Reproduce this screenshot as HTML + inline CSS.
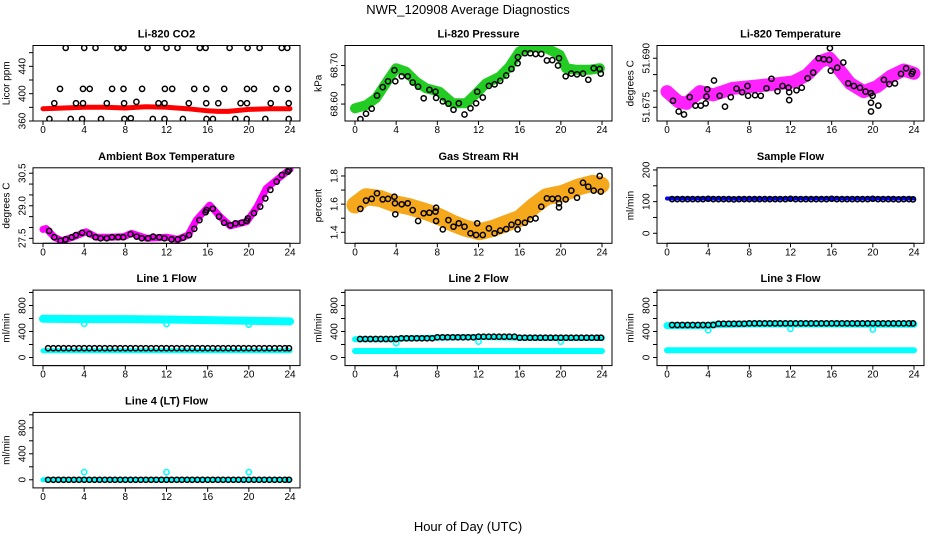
<!DOCTYPE html>
<html><head><meta charset="utf-8">
<style>
html,body{margin:0;padding:0;background:#fff;}
svg{display:block;font-family:"Liberation Sans",Arial,sans-serif;}
</style></head>
<body>
<svg id="chart" width="936" height="540" viewBox="0 0 936 540" xmlns="http://www.w3.org/2000/svg">
<text x="468" y="14" text-anchor="middle" font-size="13">NWR_120908  Average Diagnostics</text>
<text x="468" y="531" text-anchor="middle" font-size="13">Hour of Day (UTC)</text>
</svg>
<script>
// ---------- data ----------
const co2BandH = [0,2,4,6,8,10,12,14,16,17,18,20,22,24];
const co2BandV = [378,379,380,380,379,381,380,378,375,374,374,377,378,378];
const co2PtsH = [2.21,4.0,5.1,7.23,7.82,10.15,12.0,13.07,15.24,15.8,18.13,19.88,21.05,23.19,23.74,
 1.65,3.89,4.54,6.71,7.82,9.63,11.84,12.55,14.69,15.86,17.61,19.82,20.5,22.67,23.81,
 1.1,3.21,3.89,6.2,7.88,9.08,11.22,11.81,14.17,15.86,17.03,19.2,19.82,22.12,23.87,
 0.62,2.69,3.8,5.64,7.91,8.53,10.67,11.81,13.59,15.89,16.51,18.68,19.79,21.6,23.87];
const co2PtsV = [467,467,467,467,467,467,467,467,467,467,467,467,467,467,467,
 407,407,407,407,407,407,407,407,407,407,407,407,407,407,407,
 386,386,386,386,386,388,386,386,386,386,386,386,386,386,386,
 363,363,363,363,363,364,363,363,363,363,363,363,363,363,363];

const presBandH = [0,1.07,2.04,3.0,3.99,4.96,5.94,6.91,8.2,9.5,10.8,11.8,12.75,14.05,15.0,16.0,17.3,18.6,19.9,20.5,21.5,22.8,23.8];
const presBandV = [68.589,68.597,68.615,68.654,68.693,68.684,68.658,68.641,68.632,68.602,68.602,68.628,68.654,68.671,68.697,68.737,68.750,68.745,68.728,68.693,68.689,68.689,68.693];
const presPtsH = [0.52,1.07,1.62,2.14,2.69,3.21,3.83,3.92,4.54,5.12,5.61,6.13,6.68,7.23,7.82,7.88,8.53,9.08,9.57,10.09,10.64,11.22,11.77,11.87,12.42,13.01,13.56,14.11,14.69,15.21,15.80,15.83,16.51,17.03,17.55,18.1,18.65,19.17,19.72,19.82,20.47,21.02,21.57,22.15,22.67,23.19,23.78,23.88];
const presPtsV = [68.561,68.575,68.588,68.622,68.644,68.659,68.688,68.659,68.672,68.672,68.656,68.645,68.615,68.637,68.632,68.616,68.607,68.601,68.585,68.602,68.573,68.589,68.602,68.632,68.617,68.647,68.651,68.660,68.674,68.691,68.706,68.722,68.732,68.732,68.730,68.730,68.713,68.714,68.700,68.719,68.672,68.679,68.677,68.679,68.663,68.693,68.691,68.679];

const tempBandH = [0,1.1,1.9,3.2,4.5,6.4,8.0,9.7,11,12.3,13.6,14.9,15.8,16.5,17.8,19.1,20.4,21.7,23,24];
const tempBandV = [51.6798,51.6767,51.6762,51.6798,51.6788,51.6808,51.6813,51.6818,51.6823,51.6828,51.6849,51.6890,51.6900,51.6874,51.6823,51.6798,51.6813,51.6844,51.6864,51.6854];
const tempPtsH = [0.58,1.14,1.65,2.21,2.76,3.28,3.76,3.83,3.92,4.57,5.12,5.64,6.2,6.75,7.3,7.82,7.88,8.56,9.11,9.67,10.15,10.74,11.22,11.81,11.87,11.87,12.58,13.1,13.66,14.21,14.73,15.24,15.76,15.83,15.92,16.54,17.13,17.61,18.16,18.75,19.3,19.82,19.82,19.82,19.98,20.53,21.08,21.6,22.15,22.74,23.23,23.78,23.87];
const tempPtsV = [51.6770,51.6737,51.6728,51.6781,51.6755,51.6755,51.6762,51.6783,51.6805,51.6832,51.6785,51.6752,51.6781,51.6807,51.6796,51.6815,51.6785,51.6787,51.6785,51.6808,51.6837,51.6799,51.6815,51.6810,51.6796,51.6772,51.6802,51.6810,51.6839,51.6856,51.6900,51.6897,51.6895,51.6931,51.6862,51.6871,51.6887,51.6823,51.6815,51.6810,51.6798,51.6793,51.6764,51.6737,51.6785,51.6755,51.6834,51.6821,51.6823,51.6852,51.6869,51.6852,51.6859];

const ambBandH = [0,0.3,1.1,1.8,2.9,4.2,5.2,6.5,7.9,8.6,10.1,12,13.1,14.1,14.9,16.2,17.2,18.2,19.8,20.8,21.7,22.7,24];
const ambBandV = [27.91,27.95,27.55,27.39,27.55,27.80,27.55,27.55,27.58,27.73,27.5,27.55,27.45,27.65,28.34,29.03,28.5,28.07,28.27,28.96,29.80,30.19,30.68];
const ambPtsH = [0.6,1.1,1.7,2.2,2.8,3.2,3.8,4.5,5.1,5.6,6.2,6.7,7.3,7.8,8.5,9.1,9.6,10.2,10.7,11.3,11.8,12.5,13.1,13.6,14.2,14.7,15.2,15.8,15.9,16.5,17.1,17.6,18.2,18.7,19.3,19.8,19.9,20.5,21.1,21.6,22.1,22.7,23.2,23.8,23.9];
const ambPtsV = [27.84,27.55,27.39,27.45,27.55,27.65,27.76,27.7,27.55,27.5,27.5,27.55,27.55,27.55,27.69,27.58,27.5,27.5,27.58,27.55,27.5,27.45,27.45,27.53,27.65,27.94,28.34,28.70,28.80,28.86,28.50,28.22,28.10,28.19,28.22,28.31,28.42,28.66,28.96,29.34,29.73,30.11,30.42,30.57,30.65];

const rhBandH = [0,1.07,2.4,3.7,5.3,6.9,8.2,9.5,10.8,12.1,13.4,14.7,16,17.3,18.6,20.2,21.8,23.1,23.9];
const rhBandV = [1.594,1.653,1.641,1.606,1.582,1.546,1.511,1.464,1.428,1.404,1.428,1.464,1.499,1.582,1.653,1.677,1.724,1.748,1.736];
const rhPtsH = [0.52,1.07,1.62,2.14,2.69,3.21,3.83,3.89,3.92,4.54,5.12,5.61,6.13,6.68,7.23,7.82,7.88,7.88,8.53,9.08,9.57,10.09,10.64,11.22,11.77,11.87,12.42,13.01,13.56,14.11,14.69,15.21,15.80,15.83,16.51,17.03,17.55,18.1,18.65,19.17,19.72,19.82,19.82,20.47,21.02,21.57,22.15,22.67,23.19,23.78,23.88];
const rhPtsV = [1.566,1.625,1.637,1.677,1.634,1.637,1.653,1.606,1.528,1.599,1.606,1.558,1.480,1.535,1.539,1.547,1.575,1.480,1.421,1.487,1.440,1.464,1.440,1.393,1.381,1.464,1.381,1.428,1.393,1.412,1.423,1.454,1.421,1.471,1.468,1.492,1.499,1.582,1.641,1.637,1.641,1.606,1.577,1.634,1.696,1.646,1.752,1.724,1.696,1.800,1.689];

const flowHours = [0.5,1,1.5,2,2.5,3,3.5,4,4.5,5,5.5,6,6.5,7,7.5,8,8.5,9,9.5,10,10.5,11,11.5,12,12.5,13,13.5,14,14.5,15,15.5,16,16.5,17,17.5,18,18.5,19,19.5,20,20.5,21,21.5,22,22.5,23,23.5,23.9];
const sampleBandH = [0,4,8,12,16,20,24];
const sampleBandV = [110,110,109,110,110,110,110];
const samplePtsV = [108,108,108,108,108,108,108,109,108,108,108,108,107,108,108,108,108,108,108,108,108,108,108,109,108,108,108,108,108,108,108,109,108,108,108,108,108,108,108,109,108,108,108,108,107,108,108,107];

const line1UpperH = [0,4,8,12,16,20,24];
const line1UpperV = [595,590,590,585,575,565,555];
const line1LowerH = [0,24];
const line1LowerV = [105,105];
const line1DipH = [4,12,20];
const line1DipV = [520,515,505];
const line1PtsV = [143,143,143,143,143,143,143,143,143,143,143,143,143,143,143,143,143,143,143,143,143,143,143,143,143,143,143,143,143,143,143,143,143,143,143,143,143,143,143,143,143,143,143,143,143,143,143,143];

const line2UpperH = [0,4,4.5,8,12,16,20,24];
const line2UpperV = [280,280,290,305,315,305,300,300];
const line2LowerH = [0,24];
const line2LowerV = [100,100];
const line2DipH = [4,12,20];
const line2DipV = [220,245,245];
const line2PtsV = [285,285,285,285,285,285,285,285,295,295,295,295,295,295,295,310,310,310,310,310,310,310,310,320,320,320,320,320,320,320,320,305,305,305,305,305,305,305,305,305,305,305,305,305,305,305,305,305];

const line3UpperH = [0,4,4.5,8,12,16,20,24];
const line3UpperV = [490,490,505,515,515,515,510,510];
const line3LowerH = [0,24];
const line3LowerV = [112,112];
const line3DipH = [4,12,20];
const line3DipV = [420,440,430];
const line3PtsV = [500,500,500,500,500,500,500,500,500,520,520,520,520,520,520,525,525,525,525,525,525,525,525,525,525,525,525,525,525,525,525,525,525,525,525,525,525,525,525,525,525,525,525,525,525,525,525,525];

const line4BandH = [0,24];
const line4BandV = [0,0];
const line4DipH = [4,12,20];
const line4DipV = [118,118,118];
const line4PtsV = [0,0,0,0,0,0,0,0,0,0,0,0,0,0,0,0,0,0,0,0,0,0,0,0,0,0,0,0,0,0,0,0,0,0,0,0,0,0,0,0,0,0,0,0,0,0,0,0];

const xTicks = [0,4,8,12,16,20,24];

// ---------- rendering ----------
const NS = "http://www.w3.org/2000/svg";
const svg = document.getElementById('chart');
const colLeft = [33,345,657];
const W = 267, H = 75.5;
function mk(tag, attrs, parent){ const e = document.createElementNS(NS, tag); for (const k in attrs) e.setAttribute(k, attrs[k]); (parent||svg).appendChild(e); return e; }

function panel(cfg){
  const L = colLeft[cfg.col], T = 45.5 + 122.3*cfg.row;
  const g = mk('g', {});
  
  
  const xs = h => L + 10 + h*(247/24);
  const ys = v => T + H - (v - cfg.ymin)/(cfg.ymax - cfg.ymin)*H;
  const cid = 'clip-' + cfg.name;
  const cp = mk('clipPath', {id: cid}, g);
  mk('rect', {x: L, y: T, width: W, height: H}, cp);
  const plot = mk('g', {'clip-path': 'url(#' + cid + ')'}, g);
  cfg.layers.forEach(ly => {
    if (ly.type === 'band') {
      const pts = ly.h.map((h,i) => xs(h).toFixed(1) + ',' + ys(ly.v[i]).toFixed(1)).join(' ');
      const pl = mk('polyline', {points: pts, fill: 'none', stroke: ly.color, 'stroke-width': ly.w, 'stroke-linejoin': 'round', 'stroke-linecap': 'round', opacity: ly.op || 1}, plot);
      
      
    } else {
      ly.h.forEach((h,i) => {
        const c = mk('circle', {cx: xs(h).toFixed(1), cy: ys(ly.v[i]).toFixed(1), r: ly.r || 2.6, fill: 'none', stroke: ly.color, 'stroke-width': ly.sw || 1.5}, plot);
        
        
      });
    }
  });
  const box = mk('rect', {x: L, y: T, width: W, height: H, fill: 'none', stroke: '#000', 'stroke-width': 1}, g);
  
  
  const xa = mk('g', {}, g);
  
  
  mk('line', {x1: xs(0), x2: xs(24), y1: T+H, y2: T+H, stroke: '#000'}, xa);
  xTicks.forEach(t => {
    mk('line', {x1: xs(t), x2: xs(t), y1: T+H, y2: T+H+4, stroke: '#000'}, xa);
    const tx = mk('text', {x: xs(t), y: T+H+12, 'text-anchor': 'middle', 'font-size': 10}, xa);
    tx.textContent = t;
  });
  const ya = mk('g', {}, g);
  
  
  const yt = cfg.yticks;
  mk('line', {x1: L, x2: L, y1: ys(yt[0]), y2: ys(yt[yt.length-1]), stroke: '#000'}, ya);
  yt.forEach(t => {
    mk('line', {x1: L-4, x2: L, y1: ys(t), y2: ys(t), stroke: '#000'}, ya);
  });
  cfg.ylabels.forEach(t => {
    const y = ys(t);
    const tx = mk('text', {x: L-10, y: y, 'text-anchor': 'middle', 'font-size': 10, transform: 'rotate(-90 ' + (L-10) + ' ' + y + ')', 'dominant-baseline': 'central'}, ya);
    tx.textContent = cfg.fmt ? t.toFixed(cfg.fmt) : t;
  });
  const yl = mk('text', {x: L-26, y: T+H/2, 'text-anchor': 'middle', 'font-size': 10, transform: 'rotate(-90 ' + (L-26) + ' ' + (T+H/2) + ')', 'dominant-baseline': 'central'}, g);
  yl.textContent = cfg.ylab;
  
  
  const tt = mk('text', {x: L + W/2, y: T - 8, 'text-anchor': 'middle', 'font-size': 11, 'font-weight': 'bold'}, g);
  tt.textContent = cfg.title;
  
  
}

const BLK = '#000';
const CY = '#00ffff';
panel({name:'co2', col:0,row:0,title:'Li-820 CO2', ylab:'Licor ppm', ymin:360, ymax:470.5,
  yticks:[360,380,400,420,440,460], ylabels:[360,400,440],
  layers:[{type:'band',h:co2BandH,v:co2BandV,color:'#ff0000',w:5},{type:'pts',h:co2PtsH,v:co2PtsV,color:BLK}]});
panel({name:'pressure', col:1,row:0,title:'Li-820 Pressure', ylab:'kPa', ymin:68.556, ymax:68.752,
  yticks:[68.60,68.65,68.70], ylabels:[68.60,68.70], fmt:2,
  layers:[{type:'band',h:presBandH,v:presBandV,color:'#22cc22',w:10},{type:'pts',h:presPtsH,v:presPtsV,color:BLK}]});
panel({name:'temperature', col:2,row:0,title:'Li-820 Temperature', ylab:'degrees C', ymin:51.6708, ymax:51.6939,
  yticks:[51.675,51.680,51.685,51.690], ylabels:[51.675,51.690], fmt:3,
  layers:[{type:'band',h:tempBandH,v:tempBandV,color:'#ff22ff',w:13},{type:'pts',h:tempPtsH,v:tempPtsV,color:BLK}]});
panel({name:'ambient-temp', col:0,row:1,title:'Ambient Box Temperature', ylab:'degrees C', ymin:27.27, ymax:30.75,
  yticks:[27.5,28,28.5,29,29.5,30,30.5], ylabels:[27.5,29.0,30.5], fmt:1,
  layers:[{type:'band',h:ambBandH,v:ambBandV,color:'#ff00ff',w:7},{type:'pts',h:ambPtsH,v:ambPtsV,color:BLK}]});
panel({name:'rh', col:1,row:1,title:'Gas Stream RH', ylab:'percent', ymin:1.322, ymax:1.858,
  yticks:[1.4,1.5,1.6,1.7,1.8], ylabels:[1.4,1.6,1.8], fmt:1,
  layers:[{type:'band',h:rhBandH,v:rhBandV,color:'#f5a81c',w:17},{type:'pts',h:rhPtsH,v:rhPtsV,color:BLK}]});
panel({name:'sample-flow', col:2,row:1,title:'Sample Flow', ylab:'ml/min', ymin:-31.6, ymax:206.8,
  yticks:[0,50,100,150,200], ylabels:[0,100,200],
  layers:[{type:'band',h:sampleBandH,v:sampleBandV,color:'#0000ff',w:4},{type:'pts',h:flowHours,v:samplePtsV,color:BLK}]});
panel({name:'line1-flow', col:0,row:2,title:'Line 1 Flow', ylab:'ml/min', ymin:-125, ymax:1037,
  yticks:[0,200,400,600,800,1000], ylabels:[0,400,800],
  layers:[{type:'band',h:line1UpperH,v:line1UpperV,color:CY,w:8},{type:'band',h:line1LowerH,v:line1LowerV,color:CY,w:5},
          {type:'pts',h:line1DipH,v:line1DipV,color:CY},{type:'pts',h:flowHours,v:line1PtsV,color:BLK}]});
panel({name:'line2-flow', col:1,row:2,title:'Line 2 Flow', ylab:'ml/min', ymin:-125, ymax:1037,
  yticks:[0,200,400,600,800,1000], ylabels:[0,400,800],
  layers:[{type:'band',h:line2UpperH,v:line2UpperV,color:CY,w:6},{type:'band',h:line2LowerH,v:line2LowerV,color:CY,w:6},
          {type:'pts',h:line2DipH,v:line2DipV,color:CY},{type:'pts',h:flowHours,v:line2PtsV,color:BLK}]});
panel({name:'line3-flow', col:2,row:2,title:'Line 3 Flow', ylab:'ml/min', ymin:-125, ymax:1037,
  yticks:[0,200,400,600,800,1000], ylabels:[0,400,800],
  layers:[{type:'band',h:line3UpperH,v:line3UpperV,color:CY,w:7},{type:'band',h:line3LowerH,v:line3LowerV,color:CY,w:6},
          {type:'pts',h:line3DipH,v:line3DipV,color:CY},{type:'pts',h:flowHours,v:line3PtsV,color:BLK}]});
panel({name:'line4-flow', col:0,row:3,title:'Line 4 (LT) Flow', ylab:'ml/min', ymin:-125, ymax:1037,
  yticks:[0,200,400,600,800,1000], ylabels:[0,400,800],
  layers:[{type:'band',h:line4BandH,v:line4BandV,color:CY,w:5},
          {type:'pts',h:line4DipH,v:line4DipV,color:CY},{type:'pts',h:flowHours,v:line4PtsV,color:BLK}]});
</script>
</body></html>
